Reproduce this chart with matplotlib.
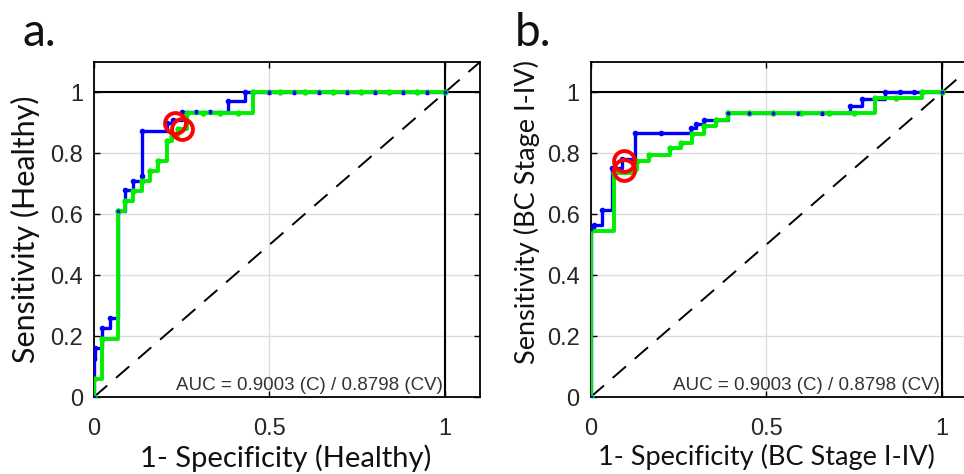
import matplotlib
matplotlib.use('Agg')
import matplotlib.pyplot as plt

# panel a: Healthy
fpr_a_c = [0, 0, 0.003, 0.022, 0.047, 0.068, 0.088, 0.112, 0.136, 0.136, 0.207,
           0.226, 0.25, 0.29, 0.33, 0.382, 0.43, 0.5, 0.57, 0.64, 0.72, 0.8, 0.88, 0.95, 1.0]
tpr_a_c = [0, 0.126, 0.16, 0.225, 0.258, 0.612, 0.68, 0.708, 0.725, 0.873, 0.90,
           0.91, 0.936, 0.936, 0.936, 0.971, 1, 1, 1, 1, 1, 1, 1, 1, 1]
fpr_a_cv = [0, 0, 0.022, 0.068, 0.088, 0.112, 0.136, 0.16, 0.183, 0.207, 0.221,
            0.24, 0.264, 0.31, 0.36, 0.41, 0.454, 0.53, 0.6, 0.68, 0.76, 0.84, 0.92, 1.0]
tpr_a_cv = [0, 0.06, 0.19, 0.612, 0.642, 0.675, 0.71, 0.741, 0.774, 0.84, 0.856,
            0.88, 0.933, 0.933, 0.933, 0.933, 1, 1, 1, 1, 1, 1, 1, 1]
cut_fpr_a = [0.231, 0.25]
cut_tpr_a = [0.899, 0.88]

# panel b: BC Stage I-IV
fpr_b_c = [0, 0, 0.008, 0.031, 0.06, 0.09, 0.127, 0.2, 0.285, 0.30, 0.323, 0.39,
           0.45, 0.52, 0.59, 0.66, 0.738, 0.772, 0.838, 0.88, 0.92, 1.0]
tpr_b_c = [0, 0.55, 0.566, 0.615, 0.752, 0.78, 0.867, 0.867, 0.884, 0.895, 0.911, 0.933,
           0.933, 0.933, 0.933, 0.933, 0.955, 0.98, 1, 1, 1, 1]
fpr_b_cv = [0, 0, 0.065, 0.127, 0.133, 0.165, 0.227, 0.256, 0.289, 0.323, 0.356, 0.39,
            0.45, 0.52, 0.6, 0.68, 0.75, 0.81, 0.87, 0.943, 1.0]
tpr_b_cv = [0, 0.544, 0.736, 0.75, 0.774, 0.796, 0.818, 0.834, 0.862, 0.889, 0.911, 0.933,
            0.933, 0.933, 0.933, 0.933, 0.933, 0.981, 0.981, 1, 1]
cut_fpr_b = [0.094, 0.094]
cut_tpr_b = [0.774, 0.747]

auc_text = 'AUC = 0.9003 (C) / 0.8798 (CV)'
yticks = [0, 0.2, 0.4, 0.6, 0.8, 1]
ytick_labels = ['0', '0.2', '0.4', '0.6', '0.8', '1']
xticks = [0, 0.5, 1]
xtick_labels = ['0', '0.5', '1']

W, H = 964, 474
fig = plt.figure(figsize=(W / 100, H / 100), dpi=100)


def roc_panel(rect, fc, tc, fcv, tcv, cf, ct, xlab, ylab, xlab_x, ylab_xy, xsize, ysize):
    ax = fig.add_axes(rect)
    ax.set_xlim(0, 1.1)
    ax.set_ylim(0, 1.1)
    ax.grid(True, color='#dcdcdc', lw=1)
    ax.set_axisbelow(True)
    ax.axhline(1, color='black', lw=1.5, zorder=2)
    ax.axvline(1, color='black', lw=1.5, zorder=2)
    ax.plot([0, 1.1], [0, 1.1], color='black', lw=1.4, dashes=(9, 6), zorder=2)
    ax.plot(fc, tc, drawstyle='steps-post', color='#0000ff', lw=2.4,
            marker='.', ms=6, zorder=3)
    ax.plot(fcv, tcv, drawstyle='steps-post', color='#00ee00', lw=2.8,
            marker='.', ms=7, zorder=4)
    ax.plot(fc, tc, ls='none', color='#0000ff', marker='.', ms=3.5, zorder=5)
    ax.plot(cf, ct, ls='none', marker='o', ms=15, mfc='none', mec='#ff0000',
            mew=2.8, zorder=6)
    ax.text(0.995, 0.01, auc_text, ha='right', va='bottom', fontsize=13.5,
            color='#333333', family='Liberation Sans', zorder=7)
    ax.set_xticks(xticks)
    ax.set_xticklabels(xtick_labels)
    ax.set_yticks(yticks)
    ax.set_yticklabels(ytick_labels)
    ax.tick_params(direction='in', length=4, width=1, top=True, right=True,
                   colors='black', labelcolor='#262626', labelsize=17)
    ax.tick_params(axis='x', pad=15)
    ax.tick_params(axis='y', pad=8)
    for lab in ax.get_xticklabels() + ax.get_yticklabels():
        lab.set_family('Liberation Sans')
    for s in ax.spines.values():
        s.set_linewidth(1.3)
        s.set_color('black')
    ax.set_xlabel(xlab, fontsize=xsize, family='Lato', color='#111111')
    ax.set_ylabel(ylab, fontsize=ysize, family='Lato', color='#111111')
    ax.xaxis.set_label_coords(xlab_x, -0.14)
    ax.yaxis.set_label_coords(*ylab_xy)
    return ax


ax_w = 386 / W
ax_h = 335 / H
bottom = (H - 397) / H
roc_panel([94 / W, bottom, ax_w, ax_h], fpr_a_c, tpr_a_c, fpr_a_cv, tpr_a_cv,
          cut_fpr_a, cut_tpr_a, '1- Specificity (Healthy)', 'Sensitivity (Healthy)',
          0.497, (-0.14, 0.5), 21, 22)
roc_panel([590.7 / W, bottom, ax_w, ax_h], fpr_b_c, tpr_b_c, fpr_b_cv, tpr_b_cv,
          cut_fpr_b, cut_tpr_b, '1- Specificity (BC Stage I-IV)',
          'Sensitivity (BC Stage I-IV)', 0.454, (-0.131, 0.552), 19.5, 19.5)

fig.text(22 / W, 1 - 46 / H, 'a.', fontsize=33, family='Lato', color='#111111')
fig.text(515 / W, 1 - 46 / H, 'b.', fontsize=33, family='Lato', color='#111111')

fig.savefig('out.png', dpi=100)
